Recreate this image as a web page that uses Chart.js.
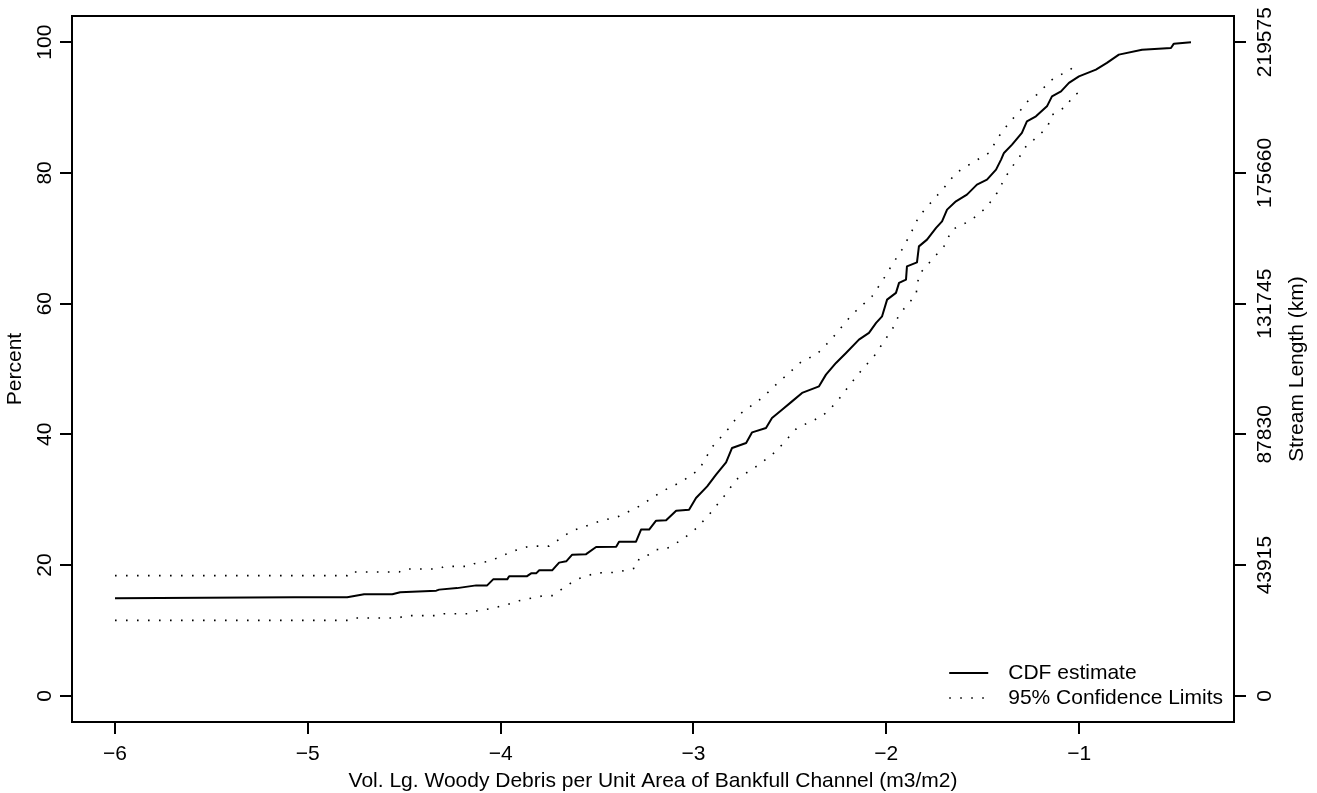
<!DOCTYPE html>
<html><head><meta charset="utf-8">
<script src="https://cdn.jsdelivr.net/npm/chart.js@4/dist/chart.umd.min.js"></script>
<style>html,body{margin:0;padding:0;background:#fff;}canvas{display:block;}</style>
</head><body>
<canvas id="c" width="1317" height="793"></canvas>
<script>
const cdfX = [-6.000,-5.070,-4.796,-4.708,-4.562,-4.521,-4.334,-4.319,-4.226,-4.127,-4.070,-4.039,-3.966,-3.956,-3.863,-3.842,-3.816,-3.800,-3.733,-3.697,-3.660,-3.629,-3.557,-3.505,-3.401,-3.386,-3.298,-3.272,-3.230,-3.194,-3.142,-3.090,-3.023,-2.987,-2.929,-2.883,-2.831,-2.800,-2.727,-2.696,-2.624,-2.593,-2.541,-2.489,-2.437,-2.349,-2.313,-2.261,-2.209,-2.142,-2.090,-2.053,-2.022,-1.996,-1.950,-1.934,-1.898,-1.893,-1.841,-1.831,-1.789,-1.742,-1.711,-1.685,-1.639,-1.582,-1.530,-1.478,-1.431,-1.405,-1.390,-1.348,-1.297,-1.271,-1.224,-1.167,-1.141,-1.094,-1.053,-1.001,-0.913,-0.856,-0.794,-0.674,-0.524,-0.509,-0.420];
const cdfY = [14.92,15.07,15.07,15.53,15.53,15.86,16.09,16.25,16.48,16.90,16.90,17.82,17.82,18.31,18.31,18.74,18.74,19.20,19.20,20.38,20.58,21.60,21.68,22.78,22.82,23.59,23.59,25.43,25.43,26.80,26.85,28.33,28.48,30.27,32.05,33.84,35.72,37.92,38.69,40.31,40.98,42.51,43.78,45.05,46.34,47.35,49.14,50.93,52.46,54.49,55.52,57.05,58.06,60.61,61.64,63.17,63.67,65.70,66.32,68.76,69.79,71.58,72.59,74.38,75.65,76.67,78.20,78.97,80.50,82.03,83.05,84.32,86.11,87.89,88.65,90.18,91.71,92.47,93.76,94.77,95.79,96.82,98.09,98.85,99.11,99.77,100.0];
const upperX = [-6.000,-4.796,-4.785,-4.526,-4.500,-4.319,-4.293,-4.163,-4.137,-4.060,-3.997,-3.940,-3.852,-3.749,-3.635,-3.489,-3.386,-3.282,-3.163,-3.059,-2.971,-2.904,-2.815,-2.764,-2.644,-2.572,-2.504,-2.442,-2.359,-2.287,-2.178,-2.074,-2.022,-1.970,-1.919,-1.872,-1.831,-1.763,-1.701,-1.639,-1.556,-1.468,-1.416,-1.354,-1.322,-1.260,-1.219,-1.146,-1.105,-1.058,-1.017];
const upperY = [18.39,18.39,18.95,18.95,19.41,19.41,19.81,19.81,20.22,20.58,21.34,22.11,22.90,22.90,25.17,26.69,27.46,28.99,31.28,32.81,34.60,38.05,40.98,43.02,45.57,47.61,49.40,51.08,52.30,54.49,58.32,61.12,63.41,65.96,68.26,70.81,73.35,75.65,77.70,79.99,81.52,83.05,85.59,88.04,88.91,91.20,91.97,94.16,94.92,95.49,96.56];
const lowerX = [-6.000,-4.785,-4.759,-4.526,-4.500,-4.319,-4.293,-4.163,-4.137,-4.060,-3.966,-3.904,-3.775,-3.733,-3.609,-3.505,-3.401,-3.298,-3.282,-3.230,-3.194,-3.142,-3.059,-2.987,-2.919,-2.831,-2.779,-2.660,-2.572,-2.463,-2.333,-2.261,-2.209,-2.126,-2.064,-2.012,-1.960,-1.934,-1.846,-1.831,-1.763,-1.701,-1.659,-1.561,-1.483,-1.426,-1.380,-1.328,-1.297,-1.271,-1.234,-1.193,-1.162,-1.146,-1.105,-1.063,-1.037,-0.991];
const lowerY = [11.55,11.55,11.92,11.92,12.27,12.27,12.57,12.57,12.93,13.29,13.95,14.56,15.33,15.33,17.78,18.80,18.89,19.57,20.99,21.60,22.37,22.47,23.90,25.58,27.72,30.93,33.07,35.37,37.40,40.98,42.76,44.81,46.84,49.90,51.94,54.23,56.53,58.32,61.37,64.43,66.73,68.76,71.32,72.74,74.64,76.93,79.47,81.77,82.94,84.32,85.09,86.20,87.12,88.75,89.57,90.18,91.71,92.47];

const xTickValues = [-6,-5,-4,-3,-2,-1];
const xTickLabels = ['\u22126','\u22125','\u22124','\u22123','\u22122','\u22121'];
const yTickValues = [0,20,40,60,80,100];
const yTickLabels = ['0','20','40','60','80','100'];
const lengthTickValues = [0,43915,87830,131745,175660,219575];
const lengthTickLabels = ['0','43915','87830','131745','175660','219575'];
const seriesLabels = ['CDF estimate','95% Confidence Limits'];
const xTitle = 'Vol. Lg. Woody Debris per Unit Area of Bankfull Channel (m3/m2)';
const yTitle = 'Percent';
const y2Title = 'Stream Length (km)';
const totalLength = 219575;

const xMin = -6.223, xMax = -0.197, yMin = -4, yMax = 104;
const FONT = "'Liberation Sans', Arial, Helvetica, sans-serif";
Chart.defaults.font.family = FONT;
Chart.defaults.font.size = 21;
Chart.defaults.color = '#000';

const zip = (xs, ys) => xs.map((x, i) => ({x: x, y: ys[i]}));
const gridOpts = {drawOnChartArea:false, drawTicks:true, tickLength:12, tickWidth:2, tickColor:'#000', color:'#000', lineWidth:2};
const borderOpts = {display:true, color:'#000', width:2};

const extras = {
  id: 'extras',
  afterDraw(chart) {
    const ctx = chart.ctx, ca = chart.chartArea;
    ctx.save();
    ctx.fillStyle = '#000';
    ctx.font = '21px ' + FONT;
    // right axis title (reads bottom to top)
    ctx.translate(1297, (ca.top + ca.bottom) / 2);
    ctx.rotate(-Math.PI / 2);
    ctx.textAlign = 'center';
    ctx.textBaseline = 'middle';
    ctx.fillText(y2Title, 0, 0);
    ctx.restore();
    // legend
    ctx.save();
    ctx.font = '21px ' + FONT;
    const w = Math.max(...seriesLabels.map(t => ctx.measureText(t).width));
    const tx = ca.right - 11 - w;
    const rows = [ca.bottom - 49, ca.bottom - 24];
    rows.forEach((y, i) => {
      const ds = chart.data.datasets[i];
      ctx.save();
      ctx.strokeStyle = ds.borderColor;
      ctx.lineWidth = ds.borderWidth;
      ctx.setLineDash(ds.borderDash || []);
      ctx.beginPath();
      ctx.moveTo(tx - 59, y);
      ctx.lineTo(tx - 20, y);
      ctx.stroke();
      ctx.restore();
      ctx.fillStyle = '#000';
      ctx.textAlign = 'left';
      ctx.textBaseline = 'middle';
      ctx.fillText(seriesLabels[i], tx, y);
    });
    ctx.restore();
  }
};

new Chart(document.getElementById('c'), {
  type: 'line',
  data: {
    datasets: [
      {label: seriesLabels[0], data: zip(cdfX, cdfY), borderColor:'#000', borderWidth:2, pointRadius:0, tension:0, fill:false, borderJoinStyle:'round', xAxisID:'x', yAxisID:'y'},
      {label: seriesLabels[1], data: zip(upperX, upperY), borderColor:'#000', borderWidth:1.6, borderDash:[1.6,9.4], pointRadius:0, tension:0, fill:false, xAxisID:'x', yAxisID:'y'},
      {label: seriesLabels[1], data: zip(lowerX, lowerY), borderColor:'#000', borderWidth:1.6, borderDash:[1.6,9.4], pointRadius:0, tension:0, fill:false, xAxisID:'x', yAxisID:'y'}
    ]
  },
  options: {
    responsive: false,
    animation: false,
    events: [],
    layout: {padding: {top:16, left:0, right:0, bottom:0}},
    plugins: {legend:{display:false}, tooltip:{enabled:false}},
    scales: {
      x: {
        type:'linear', position:'bottom', min:xMin, max:xMax,
        afterBuildTicks: s => { s.ticks = xTickValues.map(v => ({value:v})); },
        afterFit: s => { s.height = 71; },
        ticks: {callback: (v, i) => xTickLabels[i], minRotation:0, maxRotation:0, padding:8, autoSkip:false},
        grid: gridOpts, border: borderOpts,
        title: {display:true, text:xTitle, font:{size:21, lineHeight:1}, padding:{top:0, bottom:1.5}}
      },
      x2: {
        type:'linear', position:'top', min:xMin, max:xMax,
        afterFit: s => { s.height = 0; },
        ticks: {display:false}, grid: {display:false}, border: borderOpts
      },
      y: {
        type:'linear', position:'left', min:yMin, max:yMax,
        afterBuildTicks: s => { s.ticks = yTickValues.map(v => ({value:v})); },
        afterFit: s => { s.width = 72; },
        ticks: {callback: (v, i) => yTickLabels[i], minRotation:90, maxRotation:90, crossAlign:'center', padding:-3, autoSkip:false},
        grid: gridOpts, border: borderOpts,
        title: {display:true, text:yTitle, font:{size:21, lineHeight:1}, padding:{top:4.5, bottom:0}}
      },
      y2: {
        type:'linear', position:'right', min:yMin*totalLength/100, max:yMax*totalLength/100,
        afterBuildTicks: s => { s.ticks = lengthTickValues.map(v => ({value:v})); },
        afterFit: s => { s.width = 83; },
        ticks: {callback: (v, i) => lengthTickLabels[i], minRotation:90, maxRotation:90, crossAlign:'center', padding:-16, autoSkip:false},
        grid: gridOpts, border: borderOpts
      }
    }
  },
  plugins: [extras]
});
</script>
</body></html>
